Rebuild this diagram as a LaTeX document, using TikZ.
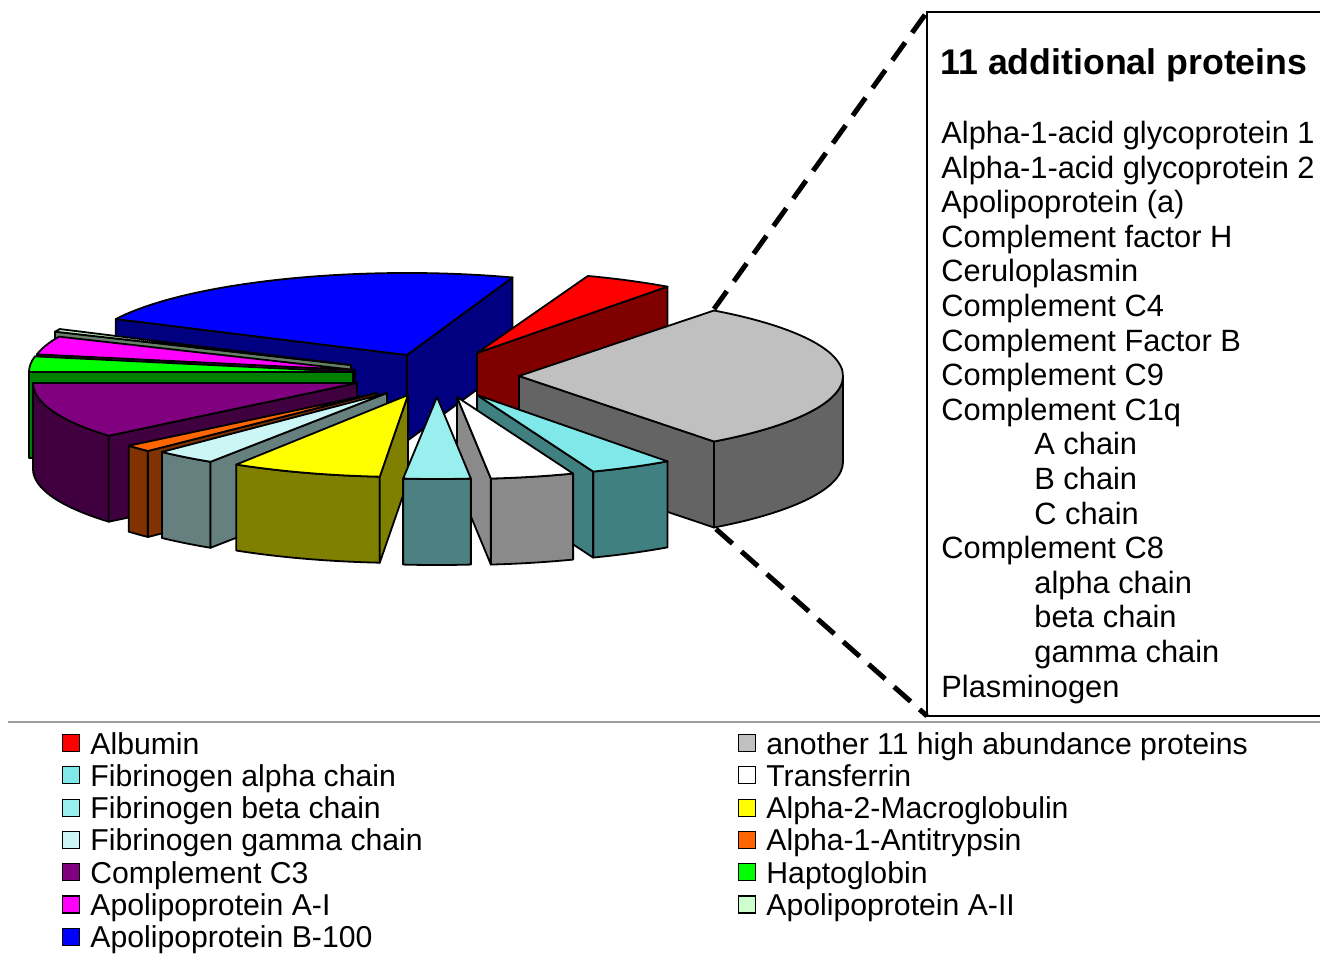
\documentclass[tikz,border=0pt]{standalone}
\usepackage{fontspec}
\setmainfont{Liberation Sans}
\usepackage{tikz}

\definecolor{apoB}{HTML}{0000FF}\definecolor{apoBdk}{HTML}{000080}
\definecolor{alb}{HTML}{FF0000}\definecolor{albdk}{HTML}{800000}
\definecolor{other}{HTML}{C0C0C0}\definecolor{otherdk}{HTML}{646464}
\definecolor{apoAII}{HTML}{CCFFCC}\definecolor{apoAIIdk}{HTML}{667F66}
\definecolor{apoAI}{HTML}{FF00FF}\definecolor{apoAIdk}{HTML}{800080}
\definecolor{hapto}{HTML}{00FF00}\definecolor{haptodk}{HTML}{008000}
\definecolor{cthree}{HTML}{800080}\definecolor{cthreedk}{HTML}{400040}
\definecolor{aat}{HTML}{FF6600}\definecolor{aatdk}{HTML}{803300}
\definecolor{fibG}{HTML}{CCF5F5}\definecolor{fibGdk}{HTML}{668080}
\definecolor{atwom}{HTML}{FFFF00}\definecolor{atwomdk}{HTML}{808000}
\definecolor{fibB}{HTML}{99EEEE}\definecolor{fibBdk}{HTML}{4D8080}
\definecolor{transf}{HTML}{FFFFFF}\definecolor{transfdk}{HTML}{8A8A8A}
\definecolor{fibA}{HTML}{80E8E8}\definecolor{fibAdk}{HTML}{408080}

% one exploded 3-D slice: apex x, apex y (pixels, downwards), start, end, top colour, side colour
\newcommand{\pieslice}[6]{%
  \begin{scope}[shift={(#1,-#2)}]
    \pgfmathsetmacro\rimA{max(#3,180)}
    \pgfmathsetmacro\rimB{min(#4,360)}
    \pgfmathtruncatemacro\hasrim{\rimB>\rimA}
    \ifnum\hasrim=1
      \filldraw[face, fill=#6] (\rimA:324 and 82) arc[start angle=\rimA, end angle=\rimB, x radius=324, y radius=82]
        -- ++(0,-86) arc[start angle=\rimB, end angle=\rimA, x radius=324, y radius=82] -- cycle;
    \fi
    \pgfmathtruncatemacro\seeA{cos(#3)>0}
    \ifnum\seeA=1
      \filldraw[face, fill=#6] (0,0) -- (#3:324 and 82) -- ++(0,-86) -- (0,-86) -- cycle;
    \fi
    \pgfmathtruncatemacro\seeB{cos(#4)<0}
    \ifnum\seeB=1
      \filldraw[face, fill=#6] (0,0) -- (#4:324 and 82) -- ++(0,-86) -- (0,-86) -- cycle;
    \fi
    \filldraw[face, fill=#5] (0,0) -- (#3:324 and 82) arc[start angle=#3, end angle=#4, x radius=324, y radius=82] -- cycle;
  \end{scope}}

\begin{document}
\begin{tikzpicture}[x=0.5pt, y=0.5pt,
    face/.style={draw=black, line width=0.9pt, line join=round},
    legkey/.style={draw=black, line width=0.6pt, minimum size=8.5pt, inner sep=0pt},
    legtext/.style={font=\fontsize{15.1}{18}\selectfont, inner sep=0pt, anchor=base west},
    boxtext/.style={font=\fontsize{15.4}{18}\selectfont, inner sep=0pt, anchor=base west},
    dashline/.style={line width=2.5pt, dash pattern=on 11pt off 6pt},
    addbox/.style={draw=black, line width=1.25pt, inner sep=0pt, outer sep=0pt, anchor=north west,
                   minimum width=215pt, minimum height=352pt}]
  \useasboundingbox (0,0) rectangle (1320,-953);

  % pie, back to front
  \pieslice{407}{355}{71}{154}{apoB}{apoBdk}
  \pieslice{477}{353}{54}{70}{alb}{albdk}
  \pieslice{351}{365}{154}{156}{apoAII}{apoAIIdk}
  \pieslice{355}{370}{156}{169}{apoAI}{apoAIdk}
  \pieslice{353}{372}{169}{180}{hapto}{haptodk}
  \pieslice{357}{383}{180}{220}{cthree}{cthreedk}
  \pieslice{519}{376}{307}{413}{other}{otherdk}
  \pieslice{377}{393}{220}{225}{aat}{aatdk}
  \pieslice{387}{393}{226}{237}{fibG}{fibGdk}
  \pieslice{408}{395}{238}{265}{atwom}{atwomdk}
  \pieslice{477}{395}{291}{306}{fibA}{fibAdk}
  \pieslice{457}{397}{276}{291}{transf}{transfdk}
  \pieslice{437}{397}{264}{276}{fibB}{fibBdk}

  % the box with the other 11 proteins
  \node[addbox] (addbox) at (927,-12) {};
  \node[font=\fontsize{17.85}{21}\selectfont\bfseries, inner sep=0pt, anchor=base west] (boxtitle) at (940,-74) {11 additional proteins};
  \foreach \t/\ind [count=\i from 0] in {Alpha-1-acid glycoprotein 1/0, Alpha-1-acid glycoprotein 2/0,
      Apolipoprotein (a)/0, Complement factor H/0, Ceruloplasmin/0, Complement C4/0,
      Complement Factor B/0, Complement C9/0, Complement C1q/0, A chain/1, B chain/1, C chain/1,
      Complement C8/0, alpha chain/1, beta chain/1, gamma chain/1, Plasminogen/0}
    \node[boxtext] (line\i) at (941+93*\ind, -143.5-34.6*\i) {\t};

  \coordinate (grayback) at (714,-309);
  \coordinate (grayfront) at (716,-529);
  \draw[dashline] (grayback) -- (addbox.north west);
  \draw[dashline] (grayfront) -- (addbox.south west);

  % legend
  \draw[line width=0.75pt, color=black!38] (8,-722) -- (1320,-722);
  \foreach \c/\t [count=\i from 0] in {alb/Albumin, fibA/Fibrinogen alpha chain, fibB/Fibrinogen beta chain,
      fibG/Fibrinogen gamma chain, cthree/Complement C3, apoAI/Apolipoprotein A-I, apoB/Apolipoprotein B-100} {
    \node[legkey, fill=\c] (keyl\i) at (71, -743-32.3*\i) {};
    \node[legtext] (legl\i) at (90, -754-32.3*\i) {\t};
  }
  \foreach \c/\t [count=\i from 0] in {other/another 11 high abundance proteins, transf/Transferrin,
      atwom/Alpha-2-Macroglobulin, aat/Alpha-1-Antitrypsin, hapto/Haptoglobin, apoAII/Apolipoprotein A-II} {
    \node[legkey, fill=\c] (keyr\i) at (747, -743-32.3*\i) {};
    \node[legtext] (legr\i) at (766, -754-32.3*\i) {\t};
  }
\end{tikzpicture}
\end{document}
